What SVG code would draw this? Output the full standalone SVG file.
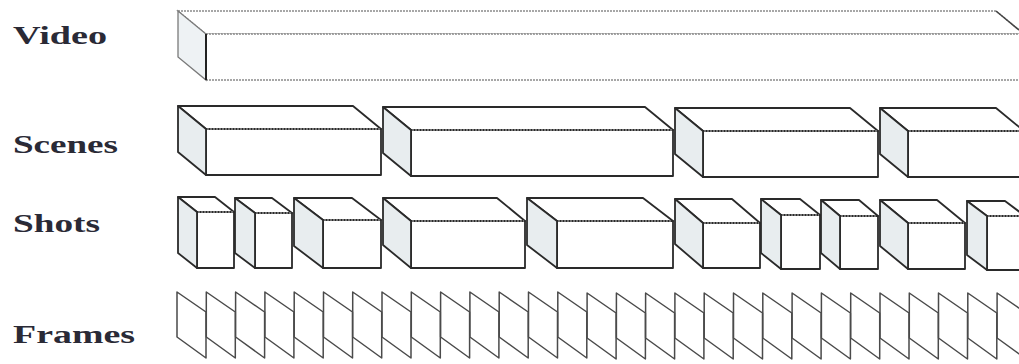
<svg xmlns="http://www.w3.org/2000/svg" width="1019" height="364" viewBox="0 0 1019 364">
<style>
.lbl{font-family:"Liberation Serif","Times New Roman",serif;font-weight:bold;font-size:25px;fill:#2a2a36}
.side{fill:#e8edef;stroke:#2a2a2a;stroke-width:1.8;stroke-linejoin:round}
.face{fill:#ffffff;stroke:#2a2a2a;stroke-width:1.8;stroke-linejoin:round}
.faint{fill:#ffffff;stroke:#8a8a8a;stroke-width:1.3;stroke-dasharray:2 1}
.vside{fill:#eef2f4;stroke:#7a7a7a;stroke-width:1.3}
.frame{fill:none;stroke:#4a4a4a;stroke-width:1.5;stroke-linejoin:round}
.mid{stroke:#8a8a8a;stroke-width:1.3;stroke-dasharray:2 1}
</style>
<rect width="1019" height="364" fill="#ffffff"/>
<g id="labels">
<text class="lbl" x="13" y="44" textLength="94" lengthAdjust="spacingAndGlyphs">Video</text>
<text class="lbl" x="13" y="153" textLength="105" lengthAdjust="spacingAndGlyphs">Scenes</text>
<text class="lbl" x="13" y="232" textLength="87" lengthAdjust="spacingAndGlyphs">Shots</text>
<text class="lbl" x="13" y="343" textLength="122" lengthAdjust="spacingAndGlyphs">Frames</text>
</g>
<g id="video">
<polygon class="faint" points="178,11 996,11 1024,34 206,34"/>
<rect class="faint" x="206" y="34" width="818" height="46"/>
<polygon class="vside" points="178,11 206,34 206,80 178,57"/>
<line x1="206" y1="34" x2="206" y2="80" stroke="#222" stroke-width="2"/>
<line x1="996" y1="11" x2="1019" y2="30" stroke="#444" stroke-width="1.5"/>
</g>
<g id="scenes">
<g id="scene1">
<polygon class="face" points="178,106 353,106 381,129 206,129"/>
<rect class="face" x="206" y="129" width="175" height="46"/>
<polygon class="side" points="178,106 206,129 206,175 178,152"/>
<line class="mid" x1="207" y1="129" x2="380" y2="129"/>
</g>
<g id="scene2">
<polygon class="face" points="383,107 645,107 673,130 411,130"/>
<rect class="face" x="411" y="130" width="262" height="46"/>
<polygon class="side" points="383,107 411,130 411,176 383,153"/>
<line class="mid" x1="412" y1="130" x2="672" y2="130"/>
</g>
<g id="scene3">
<polygon class="face" points="675,108 850,108 878,131 703,131"/>
<rect class="face" x="703" y="131" width="175" height="46"/>
<polygon class="side" points="675,108 703,131 703,177 675,154"/>
<line class="mid" x1="704" y1="131" x2="877" y2="131"/>
</g>
<g id="scene4">
<polygon class="face" points="880,108 996,108 1024,131 908,131"/>
<rect class="face" x="908" y="131" width="116" height="46"/>
<polygon class="side" points="880,108 908,131 908,177 880,154"/>
<line class="mid" x1="909" y1="131" x2="1024" y2="131"/>
</g>
</g>
<g id="shots">
<g id="shot1">
<polygon class="face" points="178,197 215,197 234,212 197,212"/>
<rect class="face" x="197" y="212" width="37" height="56"/>
<polygon class="side" points="178,197 197,212 197,268 178,253"/>
<line class="mid" x1="198" y1="212" x2="233" y2="212"/>
</g>
<g id="shot2">
<polygon class="face" points="235,198 272,198 292,213 255,213"/>
<rect class="face" x="255" y="213" width="37" height="55"/>
<polygon class="side" points="235,198 255,213 255,268 235,253"/>
<line class="mid" x1="256" y1="213" x2="291" y2="213"/>
</g>
<g id="shot3">
<polygon class="face" points="294,198 352,198 381,220 323,220"/>
<rect class="face" x="323" y="220" width="58" height="48"/>
<polygon class="side" points="294,198 323,220 323,268 294,246"/>
<line class="mid" x1="324" y1="220" x2="380" y2="220"/>
</g>
<g id="shot4">
<polygon class="face" points="383,198 497,198 525,221 411,221"/>
<rect class="face" x="411" y="221" width="114" height="47"/>
<polygon class="side" points="383,198 411,221 411,268 383,245"/>
<line class="mid" x1="412" y1="221" x2="524" y2="221"/>
</g>
<g id="shot5">
<polygon class="face" points="527,198 643,198 673,221 557,221"/>
<rect class="face" x="557" y="221" width="116" height="47"/>
<polygon class="side" points="527,198 557,221 557,268 527,245"/>
<line class="mid" x1="558" y1="221" x2="672" y2="221"/>
</g>
<g id="shot6">
<polygon class="face" points="675,199 732,199 760,223 703,223"/>
<rect class="face" x="703" y="223" width="57" height="45"/>
<polygon class="side" points="675,199 703,223 703,268 675,244"/>
<line class="mid" x1="704" y1="223" x2="759" y2="223"/>
</g>
<g id="shot7">
<polygon class="face" points="761,199 800,199 820,215 781,215"/>
<rect class="face" x="781" y="215" width="39" height="54"/>
<polygon class="side" points="761,199 781,215 781,269 761,253"/>
<line class="mid" x1="782" y1="215" x2="819" y2="215"/>
</g>
<g id="shot8">
<polygon class="face" points="821,200 859,200 878,216 840,216"/>
<rect class="face" x="840" y="216" width="38" height="53"/>
<polygon class="side" points="821,200 840,216 840,269 821,253"/>
<line class="mid" x1="841" y1="216" x2="877" y2="216"/>
</g>
<g id="shot9">
<polygon class="face" points="880,200 937,200 965,223 908,223"/>
<rect class="face" x="908" y="223" width="57" height="46"/>
<polygon class="side" points="880,200 908,223 908,269 880,246"/>
<line class="mid" x1="909" y1="223" x2="964" y2="223"/>
</g>
<g id="shot10">
<polygon class="face" points="967,201 1005,201 1025,216 987,216"/>
<rect class="face" x="987" y="216" width="38" height="54"/>
<polygon class="side" points="967,201 987,216 987,270 967,255"/>
<line class="mid" x1="988" y1="216" x2="1024" y2="216"/>
</g>
</g>
<g id="frames">
<polygon class="frame" points="177,292 206,312 206,358 177,337"/>
<polygon class="frame" points="206.3,292 235.3,312 235.3,358 206.3,337"/>
<polygon class="frame" points="235.6,292 264.6,312 264.6,358 235.6,337"/>
<polygon class="frame" points="264.9,292 293.9,312 293.9,358 264.9,337"/>
<polygon class="frame" points="294.2,292 323.2,312 323.2,358 294.2,337"/>
<polygon class="frame" points="323.5,292 352.5,312 352.5,358 323.5,337"/>
<polygon class="frame" points="352.7,292 381.7,312 381.7,358 352.7,337"/>
<polygon class="frame" points="382,292 411,312 411,358 382,337"/>
<polygon class="frame" points="411.3,292 440.3,312 440.3,358 411.3,337"/>
<polygon class="frame" points="440.6,292 469.6,312 469.6,358 440.6,337"/>
<polygon class="frame" points="469.9,292 498.9,312 498.9,358 469.9,337"/>
<polygon class="frame" points="499.2,292 528.2,312 528.2,358 499.2,337"/>
<polygon class="frame" points="528.5,292 557.5,312 557.5,358 528.5,337"/>
<polygon class="frame" points="557.8,292 586.8,312 586.8,358 557.8,337"/>
<polygon class="frame" points="587.1,293 616.1,313 616.1,359 587.1,338"/>
<polygon class="frame" points="616.4,293 645.4,313 645.4,359 616.4,338"/>
<polygon class="frame" points="645.6,293 674.6,313 674.6,359 645.6,338"/>
<polygon class="frame" points="674.9,293 703.9,313 703.9,359 674.9,338"/>
<polygon class="frame" points="704.2,293 733.2,313 733.2,359 704.2,338"/>
<polygon class="frame" points="733.5,293 762.5,313 762.5,359 733.5,338"/>
<polygon class="frame" points="762.8,293 791.8,313 791.8,359 762.8,338"/>
<polygon class="frame" points="792.1,293 821.1,313 821.1,359 792.1,338"/>
<polygon class="frame" points="821.4,293 850.4,313 850.4,359 821.4,338"/>
<polygon class="frame" points="850.7,293 879.7,313 879.7,359 850.7,338"/>
<polygon class="frame" points="880,293 909,313 909,359 880,338"/>
<polygon class="frame" points="909.3,293 938.3,313 938.3,359 909.3,338"/>
<polygon class="frame" points="938.5,293 967.5,313 967.5,359 938.5,338"/>
<polygon class="frame" points="967.8,293 996.8,313 996.8,359 967.8,338"/>
<polygon class="frame" points="997.1,293 1026.1,313 1026.1,359 997.1,338"/>
</g>
</svg>
